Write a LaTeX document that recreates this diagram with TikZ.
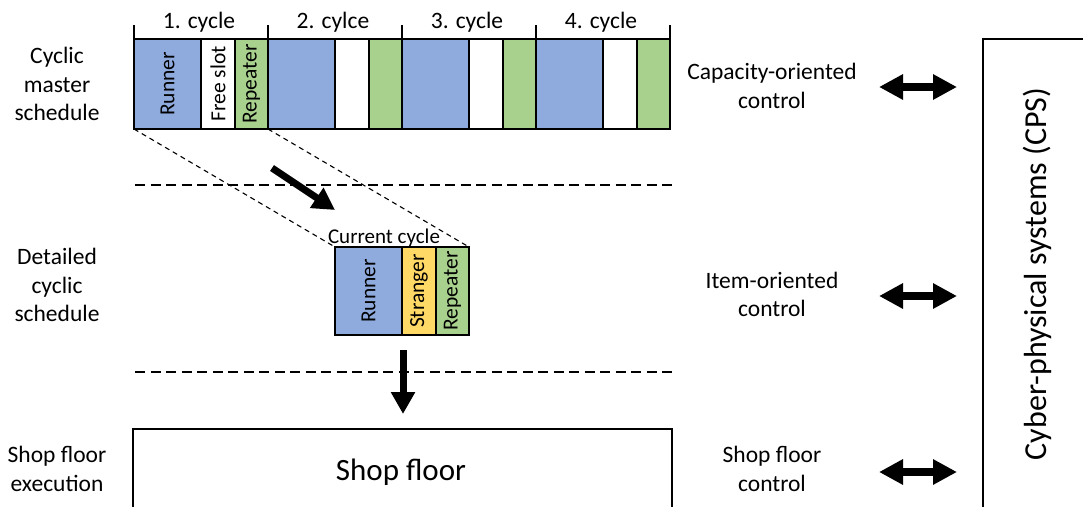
\documentclass[tikz,border=0pt]{standalone}
\usepackage{fontspec}
\setmainfont{Carlito}
\usetikzlibrary{arrows.meta}
\definecolor{runblue}{RGB}{143,170,220}
\definecolor{repgreen}{RGB}{169,209,142}
\definecolor{stryellow}{RGB}{255,217,102}

\begin{document}
\begin{tikzpicture}[x=1pt,y=-1pt,
  lbl/.style={font=\fontsize{23.5}{28.7}\selectfont, align=center, inner sep=0pt},
  slotlbl/.style={font=\fontsize{21.5}{25}\selectfont, rotate=90, inner sep=0pt},
  seg/.style={draw, line width=1.3pt, inner sep=0pt, outer sep=0pt, anchor=north west},
  frame/.style={draw, line width=1.6pt, inner sep=0pt, outer sep=0pt, anchor=north west},
  diag/.style={line width=1.1pt, dash pattern=on 5pt off 4pt},
  sep/.style={line width=1.3pt, dash pattern=on 10pt off 5.5pt},
  bigarrow/.style={line width=7pt, -{Triangle[length=22pt,width=23pt]}},
  dblarrow/.style={line width=8pt, {Triangle[length=24pt,width=24pt]}-{Triangle[length=24pt,width=24pt]}}
]
\useasboundingbox (0,0) rectangle (1083,506);

% ---- cyclic master schedule: four cycles ----
\foreach \c in {0,...,3} {
  \pgfmathsetmacro\xo{134+134*\c}
  \node[seg, fill=runblue, minimum width=67pt, minimum height=90pt] (run\c) at (\xo,39) {};
  \node[seg, fill=white, minimum width=34pt, minimum height=90pt] (free\c) at (\xo+67,39) {};
  \node[seg, fill=repgreen, minimum width=33pt, minimum height=90pt] (rep\c) at (\xo+101,39) {};
}
\draw[line width=1.6pt] (run0.north west) rectangle (rep3.south east);
\node[slotlbl] at (run0) {Runner};
\node[slotlbl] at (free0) {Free slot};
\node[slotlbl] at (rep0) {Repeater};

% cycle brackets
\foreach \xx in {134,268,402,536,670}
  \draw[line width=1.3pt] (\xx,25) -- (\xx,39);
\node[lbl, anchor=base] (cy1) at (199,28) {1. cycle};
\node[lbl, anchor=base] (cy2) at (333,28) {2. cylce};
\node[lbl, anchor=base] (cy3) at (467,28) {3. cycle};
\node[lbl, anchor=base] (cy4) at (601,28) {4. cycle};

% ---- current cycle ----
\node[seg, fill=runblue, minimum width=67pt, minimum height=88pt] (crun) at (335,247) {};
\node[seg, fill=stryellow, minimum width=34pt, minimum height=88pt] (cstr) at (402,247) {};
\node[seg, fill=repgreen, minimum width=33pt, minimum height=88pt] (crep) at (436,247) {};
\draw[line width=1.6pt] (crun.north west) rectangle (crep.south east);
\node[slotlbl] at (crun) {Runner};
\node[slotlbl] at (cstr) {Stranger};
\node[slotlbl] at (crep) {Repeater};
\node[font=\fontsize{21}{25}\selectfont, inner sep=0pt, anchor=base] (curlbl) at (384,243) {Current cycle};

% zoom lines from the first cycle to the current cycle
\draw[diag] (run0.south west) -- (crun.north west);
\draw[diag] (rep0.south east) -- (crep.north east);

% level separators
\draw[sep] (135,185) -- (672,185);
\draw[sep] (135,372) -- (672,372);

% ---- shop floor ----
\node[frame, minimum width=539pt, minimum height=120pt] (shop) at (133,429) {};
\node[font=\fontsize{31}{37}\selectfont, inner sep=0pt, anchor=base] (shoplbl) at (401,480) {Shop floor};

% flow arrows
\coordinate (a1s) at (272,168);
\coordinate (a1e) at (335,210);
\draw[bigarrow] (a1s) -- (a1e);
\coordinate (a2s) at (403,350);
\coordinate (a2e) at (403,414);
\draw[bigarrow] (a2s) -- (a2e);

% ---- level labels ----
\node[lbl] (l1) at (57,84) {Cyclic\\master\\schedule};
\node[lbl] (l2) at (57,285) {Detailed\\cyclic\\schedule};
\node[lbl] (l3) at (57,469) {Shop floor\\execution};

\node[lbl] (r1) at (772,86) {Capacity-oriented\\control};
\node[lbl] (r2) at (772,294.5) {Item-oriented\\control};
\node[lbl] (r3) at (772,469) {Shop floor\\control};

% ---- cyber-physical systems ----
\node[frame, minimum width=200pt, minimum height=520pt] (cps) at (983,39) {};
\node[font=\fontsize{32}{38}\selectfont, rotate=90, inner sep=0pt] (cpslbl) at (1037,274) {Cyber-physical systems (CPS)};

\coordinate (d1a) at (879,87);  \coordinate (d1b) at (957,87);
\coordinate (d2a) at (879,296); \coordinate (d2b) at (957,296);
\coordinate (d3a) at (879,472); \coordinate (d3b) at (957,472);
\draw[dblarrow] (d1a) -- (d1b);
\draw[dblarrow] (d2a) -- (d2b);
\draw[dblarrow] (d3a) -- (d3b);
\end{tikzpicture}
\end{document}
